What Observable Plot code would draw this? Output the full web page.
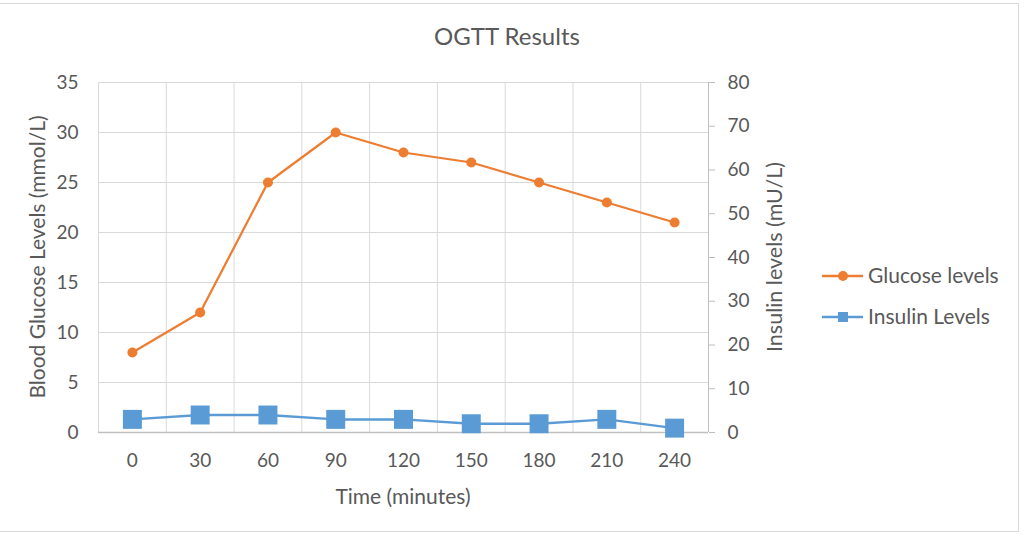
<!DOCTYPE html>
<html><head><meta charset="utf-8">
<script src="https://cdn.jsdelivr.net/npm/d3@7"></script>
<script src="https://cdn.jsdelivr.net/npm/@observablehq/plot@0.6"></script>
<style>
body{margin:0;background:#fff;font-family:Lato,"Open Sans",sans-serif;}
#wrap{position:relative;width:1024px;height:535px;overflow:hidden;}
#frame{position:absolute;left:-2px;top:3px;width:1021px;height:529px;border:1px solid #d9d9d9;box-sizing:border-box;}
.t{position:absolute;color:#595959;white-space:nowrap;line-height:1;}
#title{left:0;width:1014px;top:24px;text-align:center;font-size:24px;}
#xlab{left:98px;width:610px;top:485px;text-align:center;font-size:21px;}
#ylab{left:36px;top:257px;font-size:21px;transform:translate(-50%,-50%) rotate(-90deg);}
#y2lab{left:775px;top:257px;font-size:21.5px;transform:translate(-50%,-50%) rotate(-90deg);}
#plot{position:absolute;left:0;top:0;}
#legend{position:absolute;left:815px;top:258px;}
</style></head>
<body><div id="wrap">
<div id="frame"></div>
<div id="plot"></div>
<div class="t" id="title">OGTT Results</div>
<div class="t" id="xlab">Time (minutes)</div>
<div class="t" id="ylab">Blood Glucose Levels (mmol/L)</div>
<div class="t" id="y2lab">Insulin levels (mU/L)</div>
<div id="legend"></div>
</div>
<script>
const times = [0, 30, 60, 90, 120, 150, 180, 210, 240];
const glucose = [8, 12, 25, 30, 28, 27, 25, 23, 21];
const insulin = [3, 4, 4, 3, 3, 2, 2, 3, 1];
const leftTicks = [0, 5, 10, 15, 20, 25, 30, 35];
const rightTicks = [0, 10, 20, 30, 40, 50, 60, 70, 80];
const seriesNames = ["Glucose levels", "Insulin Levels"];
const seriesColors = ["#ED7D31", "#5B9BD5"];

const leftMax = 35, rightMax = 80;
const toLeft = v => v * leftMax / rightMax;
const half = (times[1] - times[0]) / 2;
const rows = times.map((t, i) => ({time: t, glucose: glucose[i], insulin: toLeft(insulin[i])}));
const bounds = times.map(t => t - half).concat([times[times.length - 1] + half]);

const chart = Plot.plot({
  width: 1024, height: 535,
  marginLeft: 98, marginRight: 316, marginTop: 82, marginBottom: 103,
  style: {fontFamily: "Lato, 'Open Sans', sans-serif", fontSize: "19px", color: "#595959", background: "transparent"},
  x: {type: "linear", domain: [bounds[0], bounds[bounds.length - 1]]},
  y: {domain: [0, leftMax]},
  marks: [
    Plot.ruleY(leftTicks.slice(1), {stroke: "#d9d9d9", strokeWidth: 1}),
    Plot.ruleX(bounds.slice(0, -1), {stroke: "#d9d9d9", strokeWidth: 1}),
    Plot.ruleX(bounds.slice(-1), {stroke: "#bfbfbf", strokeWidth: 1}),
    Plot.ruleY([0], {stroke: "#bfbfbf", strokeWidth: 1.3}),
    Plot.axisY(leftTicks, {anchor: "left", tickSize: 0, tickPadding: 20, label: null, fill: "#595959"}),
    Plot.axisY(rightTicks.map(toLeft), {anchor: "right", tickSize: 6, tickPadding: 13, label: null,
      stroke: "#bfbfbf", fill: "#595959", tickFormat: d => String(Math.round(d * rightMax / leftMax))}),
    Plot.axisX(times, {anchor: "bottom", tickSize: 0, tickPadding: 21, label: null, fill: "#595959"}),
    Plot.line(rows, {x: "time", y: "glucose", stroke: seriesColors[0], strokeWidth: 2.25}),
    Plot.dot(rows, {x: "time", y: "glucose", r: 5, fill: seriesColors[0], stroke: "none"}),
    Plot.line(rows, {x: "time", y: "insulin", stroke: seriesColors[1], strokeWidth: 2.5}),
    Plot.dot(rows, {x: "time", y: "insulin", symbol: "square", r: 10.7, fill: seriesColors[1], stroke: "none"})
  ]
});
document.getElementById("plot").appendChild(chart);

// legend
const lg = d3.select("#legend").append("svg").attr("width", 209).attr("height", 80)
  .style("font-family", "Lato, 'Open Sans', sans-serif").style("font-size", "21px");
seriesNames.forEach((name, i) => {
  const y = 18 + i * 41;
  const g = lg.append("g");
  g.append("line").attr("x1", 7).attr("x2", 48).attr("y1", y).attr("y2", y)
    .attr("stroke", seriesColors[i]).attr("stroke-width", 2.5);
  if (i === 0) g.append("circle").attr("cx", 28).attr("cy", y).attr("r", 5).attr("fill", seriesColors[i]);
  else g.append("rect").attr("x", 23).attr("y", y - 5).attr("width", 10).attr("height", 10).attr("fill", seriesColors[i]);
  g.append("text").attr("x", 53).attr("y", y).attr("dy", "0.35em").attr("fill", "#595959").text(name);
});
</script>
</body></html>
